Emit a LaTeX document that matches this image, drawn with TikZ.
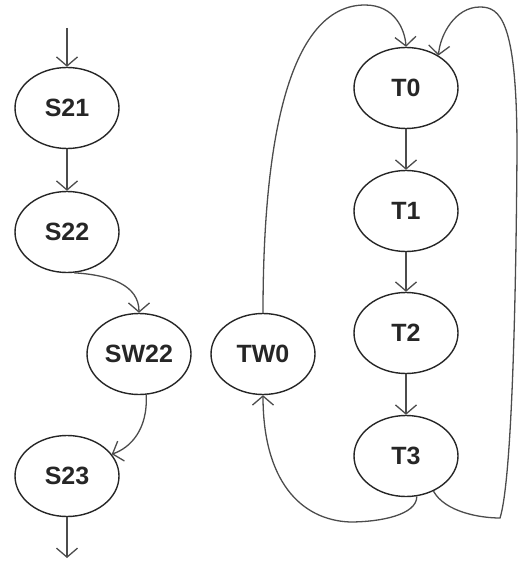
\documentclass[tikz,border=0pt]{standalone}
\usepackage{fontspec}
\setmainfont{Liberation Sans}
\usetikzlibrary{shapes.geometric,arrows.meta}
\begin{document}
\begin{tikzpicture}[x=1pt,y=-1pt,
  st/.style={ellipse,draw=black!85,line width=1.4pt,minimum width=104pt,minimum height=81pt,inner sep=0pt,font=\bfseries\fontsize{25}{25}\selectfont,text=black!85},
  tr/.style={draw=black!70,line width=1.3pt,-{Straight Barb[length=9pt,width=21pt]}}]
\useasboundingbox (0,0) rectangle (518,564);
\node[st] (S21) at (67,108) {S21};
\node[st] (S22) at (67,232) {S22};
\node[st] (SW22) at (139,354) {SW22};
\node[st] (S23) at (67,476) {S23};
\node[st] (TW0) at (263,354) {TW0};
\node[st] (T0) at (406,88) {T0};
\node[st] (T1) at (406,211) {T1};
\node[st] (T2) at (406,333) {T2};
\node[st] (T3) at (406,456) {T3};
\coordinate (in) at (67,28);
\coordinate (out) at (67,558);
\draw[tr] (in) -- (S21);
\draw[tr] (S21) -- (S22);
\draw[tr] (S22.-80) .. controls (110,275) and (139,285) .. (SW22.north);
\draw[tr] (SW22.-80) .. controls (148,430) and (130,448) .. (S23.26);
\draw[tr] (S23) -- (out);
\draw[tr] (T0) -- (T1);
\draw[tr] (T1) -- (T2);
\draw[tr] (T2) -- (T3);
\draw[tr] (TW0.north) .. controls (263,120) and (295,5) .. (365,5) .. controls (395,5) and (405,30) .. (T0.north);
\draw[tr] (T3.-52) .. controls (445,512) and (480,518) .. (500,518) .. controls (512,480) and (516,300) .. (517,150) .. controls (517,20) and (500,7) .. (480,7) .. controls (455,7) and (440,35) .. (T0.45);
\draw[tr] (T3.-75) .. controls (417,515) and (380,522) .. (350,522) .. controls (300,520) and (263,480) .. (TW0.south);
\end{tikzpicture}
\end{document}
